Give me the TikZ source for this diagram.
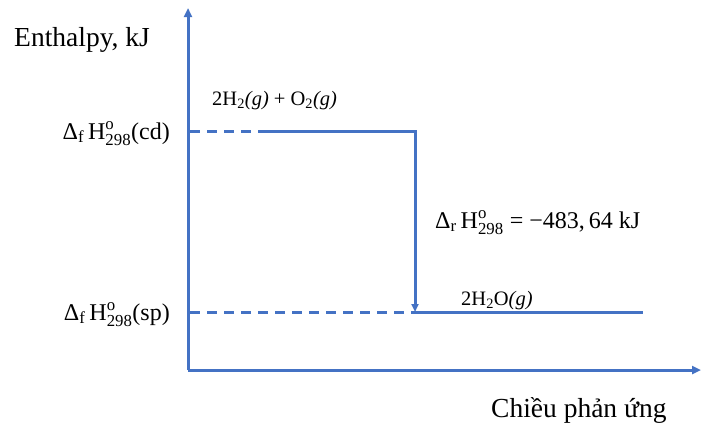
\documentclass[tikz,border=0pt]{standalone}
\usepackage{fontspec}
\usepackage{amsmath}
\setmainfont{Liberation Serif}
\usetikzlibrary{arrows.meta}
\definecolor{lineblue}{RGB}{68,114,196}
\begin{document}
\begin{tikzpicture}[x=1pt,y=-1pt,
  axis/.style={lineblue,line width=3pt,-{Triangle[length=9pt,width=8pt]}},
  level/.style={lineblue,line width=3pt},
  dashlevel/.style={lineblue,line width=3pt,dash pattern=on 10pt off 7pt},
  ylabtext/.style={inner sep=0pt,font=\fontsize{27.5}{30}\selectfont},
  bigtext/.style={inner sep=0pt,font=\fontsize{24}{28}\selectfont},
  midtext/.style={inner sep=0pt,font=\fontsize{20.5}{24}\selectfont},
  ]
\useasboundingbox (0,0) rectangle (701,423);
\fill[white] (0,0) rectangle (701,423);
% axes
\coordinate (O) at (188,370);
\coordinate (ytop) at (188,8);
\coordinate (xend) at (701,370);
\draw[axis] (O) -- (ytop);
\draw[axis] (O) -- (xend);
% levels
\coordinate (cdL) at (190,131);
\coordinate (cdM) at (260,131);
\coordinate (cdR) at (415,131);
\coordinate (spL) at (190,312);
\coordinate (spM) at (415,312);
\coordinate (spR) at (643,312);
\draw[dashlevel] (cdL) -- (cdM);
\draw[level,-{Triangle[length=8pt,width=7pt]}] (cdM) -- (cdR) -- (spM);
\draw[dashlevel] (spL) -- (spM);
\draw[level] (spM) -- (spR);
% labels
\node[ylabtext,anchor=base west] (ylab) at (14,46) {Enthalpy, kJ};
\node[bigtext,anchor=base east] (cdlab) at (170,139) {Δ$_{\text{f}}$\,H$^{\text{o}}_{\text{298}}$(cd)};
\node[bigtext,anchor=base east] (splab) at (170,320) {Δ$_{\text{f}}$\,H$^{\text{o}}_{\text{298}}$(sp)};
\node[midtext,anchor=base west] (react) at (212,105) {2H$_{\text{2}}$\textit{(g)} + O$_{\text{2}}$\textit{(g)}};
\node[midtext,anchor=base west] (prod) at (461,305) {2H$_{\text{2}}$O\textit{(g)}};
\node[bigtext,anchor=base west] (dH) at (435,228) {Δ$_{\text{r}}$\,H$^{\text{o}}_{\text{298}}$ = −483,\,64 kJ};
\node[ylabtext,anchor=base west] (xlab) at (491,417) {Chiều phản ứng};
\end{tikzpicture}
\end{document}
